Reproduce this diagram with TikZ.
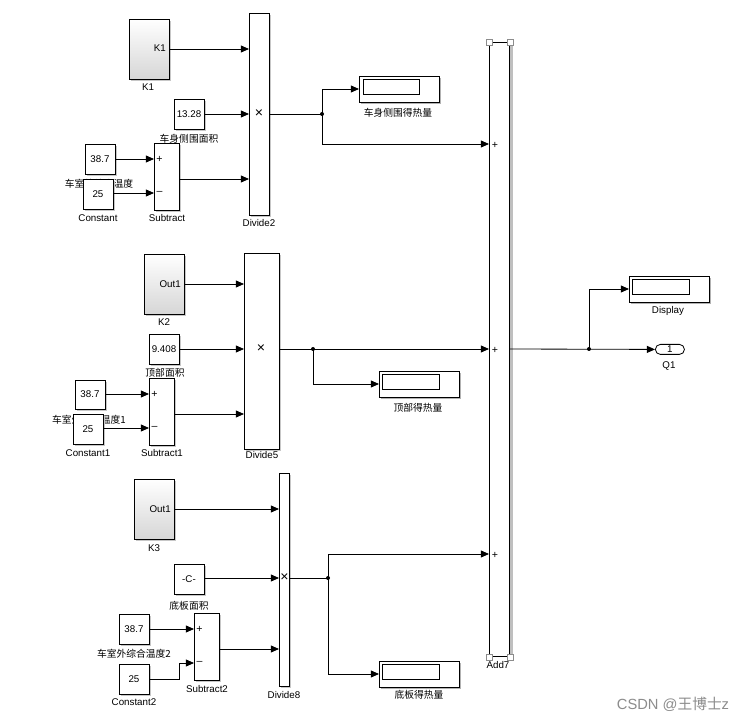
\documentclass[tikz,border=0pt]{standalone}
\usepackage{fontspec}
\setmainfont{Liberation Sans}
\newfontfamily\cjk{Noto Sans CJK SC}
\usetikzlibrary{arrows.meta,shadows}
\begin{document}
\begin{tikzpicture}[x=0.85pt,y=-0.85pt,
  bx/.style n args={4}{minimum width={(#3-#1)*0.85pt}, minimum height={(#4-#2)*0.85pt}, at={(#1,#2)}, anchor=north west},
  blk/.style={draw=black, line width=0.7pt, fill=white, inner sep=0pt, outer sep=0pt, font=\fontsize{8.3}{9}\selectfont, drop shadow={shadow xshift=1.3pt, shadow yshift=-1.3pt, fill=black!22, opacity=1}},
  kblk/.style={blk, top color=white, bottom color=black!16},
  dispblk/.style={blk, drop shadow={shadow xshift=2pt, shadow yshift=-2pt, fill=black!30, opacity=1}},
  lbl/.style={font=\fontsize{8.3}{9}\selectfont, inner sep=0pt},
  clbl/.style={font=\cjk\fontsize{8.3}{9}\selectfont, inner sep=0pt},
  sgn/.style={font=\fontsize{9}{10}\selectfont, inner sep=0pt},
  mul/.style={font=\fontsize{12}{12}\selectfont, inner sep=0pt},
  wire/.style={line width=0.7pt},
  arr/.style={wire, -{Triangle[length=7pt,width=6pt]}},
  dot/.style={circle, fill=black, inner sep=0pt, minimum size=3.4pt},
  hnd/.style={draw=black!45, fill=white, line width=0.5pt, minimum size=5pt, inner sep=0pt}
]
\useasboundingbox (0,0) rectangle (746,722);
\fill[white] (0,0) rectangle (746,722);

% ---------- top group ----------
\node[kblk, bx={129}{19}{169}{79}] (k1) {};
\node[lbl, anchor=east] (k1t) at (166,48) {K1};
\node[lbl] (k1l) at (148,87) {K1};

\node[blk, bx={249}{13}{269}{215}] (div2) {};
\node[mul] (div2x) at (259,114) {×};
\node[lbl] (div2l) at (259,223) {Divide2};

\node[blk, bx={174}{99}{204}{129}] (c1328) {13.28};
\node[clbl] (c1328l) at (189,139) {车身侧围面积};

\node[blk, bx={85}{144}{115}{174}] (c387a) {38.7};
\node[clbl] (c387al) at (99,184) {车室外综合温度};
\node[blk, bx={83}{179}{113}{209}] (c25a) {25};
\node[lbl] (c25al) at (98,218) {Constant};

\node[blk, bx={154}{143}{179}{210}] (sub1) {};
\node[sgn] (sub1p) at (159.5,159) {+};
\node[sgn] (sub1m) at (159.5,193) {–};
\node[lbl] (sub1l) at (167,218) {Subtract};

\node[dispblk, bx={359}{76}{439}{102}] (disp1) {};
\draw[line width=0.6pt] (363,79) rectangle (419,94);
\node[clbl] (disp1l) at (398,113) {车身侧围得热量};

% ---------- Add7 ----------
\fill[black!25] (510,43) rectangle (513,658);
\node[draw=black, line width=0.8pt, fill=white, inner sep=0pt, bx={489}{42}{509}{656}] (add7) {};
\node[sgn] (add7p1) at (495,145) {+};
\node[sgn] (add7p2) at (495,350) {+};
\node[sgn] (add7p3) at (495,555) {+};
\node[hnd] (h1) at (add7.north west) {};
\node[hnd] (h2) at (add7.north east) {};
\node[hnd] (h3) at (add7.south west) {};
\node[hnd] (h4) at (add7.south east) {};
\node[lbl] (add7l) at (498,665) {Add7};

\node[dispblk, bx={629}{276}{709}{302}] (dispm) {};
\draw[line width=0.6pt] (632,279) rectangle (689,294);
\node[lbl] (dispml) at (668,311) {Display};

\node[draw=black, line width=0.7pt, fill=white, rounded corners=4.2pt, inner sep=0pt, bx={655}{344}{684}{354}, font=\fontsize{8.3}{9}\selectfont] (q1) {1};
\node[lbl] (q1l) at (669,366) {Q1};

% ---------- middle group ----------
\node[kblk, bx={144}{254}{184}{314}] (k2) {};
\node[lbl, anchor=east] (k2t) at (181,284) {Out1};
\node[lbl] (k2l) at (164,322) {K2};

\node[blk, bx={244}{253}{279}{449}] (div5) {};
\node[mul] (div5x) at (261,349) {×};
\node[lbl] (div5l) at (262,455) {Divide5};

\node[blk, bx={149}{334}{179}{364}] (c9408) {9.408};
\node[clbl] (c9408l) at (165,373) {顶部面积};

\node[blk, bx={75}{380}{105}{409}] (c387b) {38.7};
\node[clbl] (c387bl) at (89,420) {车室外综合温度1};
\node[blk, bx={73}{414}{103}{444}] (c25b) {25};
\node[lbl] (c25bl) at (88,453) {Constant1};

\node[blk, bx={149}{378}{174}{445}] (sub2) {};
\node[sgn] (sub2p) at (154.5,394) {+};
\node[sgn] (sub2m) at (154.5,428) {–};
\node[lbl] (sub2l) at (162,453) {Subtract1};

\node[dispblk, bx={379}{371}{459}{397}] (disp2) {};
\draw[line width=0.6pt] (382,374) rectangle (439,389);
\node[clbl] (disp2l) at (418,408) {顶部得热量};

% ---------- bottom group ----------
\node[kblk, bx={134}{479}{174}{539}] (k3) {};
\node[lbl, anchor=east] (k3t) at (171,509) {Out1};
\node[lbl] (k3l) at (154,548) {K3};

\node[blk, bx={279}{473}{289}{686}] (div8) {};
\node[mul] (div8x) at (284.5,578) {×};
\node[lbl] (div8l) at (284,695) {Divide8};

\node[blk, bx={174}{564}{204}{594}] (cc) {-C-};
\node[clbl] (ccl) at (189,606) {底板面积};

\node[blk, bx={119}{614}{149}{644}] (c387c) {38.7};
\node[clbl] (c387cl) at (134,654) {车室外综合温度2};
\node[blk, bx={119}{664}{149}{694}] (c25c) {25};
\node[lbl] (c25cl) at (134,702) {Constant2};

\node[blk, bx={194}{613}{219}{680}] (sub3) {};
\node[sgn] (sub3p) at (199.5,629) {+};
\node[sgn] (sub3m) at (199.5,663) {–};
\node[lbl] (sub3l) at (207,689) {Subtract2};

\node[dispblk, bx={379}{661}{459}{687}] (disp3) {};
\draw[line width=0.6pt] (382,664) rectangle (439,679);
\node[clbl] (disp3l) at (419,695) {底板得热量};

% ---------- ports / coordinates ----------
\coordinate (d2a) at (249,49);
\coordinate (d2b) at (249,114);
\coordinate (d2c) at (249,179);
\coordinate (s1a) at (154,159);
\coordinate (s1b) at (154,193);
\coordinate (j1) at (322,114);
\coordinate (a1) at (489,144);
\coordinate (a2) at (489,349);
\coordinate (a3) at (489,554);
\coordinate (d5a) at (244,284);
\coordinate (d5b) at (244,349);
\coordinate (d5c) at (244,414);
\coordinate (s2a) at (149,394);
\coordinate (s2b) at (149,428);
\coordinate (j2) at (313,349);
\coordinate (d8a) at (279,509);
\coordinate (d8b) at (279,578);
\coordinate (d8c) at (279,649);
\coordinate (s3a) at (194,629);
\coordinate (s3b) at (194,663);
\coordinate (j3) at (328,578);
\coordinate (j4) at (589,349);
\coordinate (bend) at (179,679);

% ---------- connectors ----------
\draw[arr] (k1.east |- d2a) -- (d2a);
\draw[arr] (c1328.east |- d2b) -- (d2b);
\draw[arr] (c387a.east |- s1a) -- (s1a);
\draw[arr] (c25a.east |- s1b) -- (s1b);
\draw[arr] (sub1.east |- d2c) -- (d2c);
\draw[wire] (div2.east |- j1) -- (j1);
\draw[arr] (j1) |- (disp1.west);
\draw[arr] (j1) |- (a1);
\node[dot] (j1d) at (j1) {};

\draw[arr] (k2.east |- d5a) -- (d5a);
\draw[arr] (c9408.east |- d5b) -- (d5b);
\draw[arr] (c387b.east |- s2a) -- (s2a);
\draw[arr] (c25b.east |- s2b) -- (s2b);
\draw[arr] (sub2.east |- d5c) -- (d5c);
\draw[arr] (div5.east |- j2) -- (a2);
\draw[arr] (j2) |- (disp2.west);
\node[dot] (j2d) at (j2) {};

\draw[arr] (k3.east |- d8a) -- (d8a);
\draw[arr] (cc.east |- d8b) -- (d8b);
\draw[arr] (c387c.east |- s3a) -- (s3a);
\draw[arr] (c25c.east |- bend) -- (bend) |- (s3b);
\draw[arr] (sub3.east |- d8c) -- (d8c);
\draw[wire] (div8.east |- j3) -- (j3);
\draw[arr] (j3) |- (a3);
\draw[arr] (j3) |- (disp3.west);
\node[dot] (j3d) at (j3) {};

\draw[arr] (add7.east |- j4) -- (q1.west);
\draw[arr] (j4) |- (dispm.west);
\node[dot] (j4d) at (j4) {};

% ---------- watermark ----------
\node[font=\fontsize{12.5}{14}\selectfont, text=black!45, inner sep=0pt] (wm) at (673,704) {CSDN @{\cjk 王博士}z};
\end{tikzpicture}
\end{document}
